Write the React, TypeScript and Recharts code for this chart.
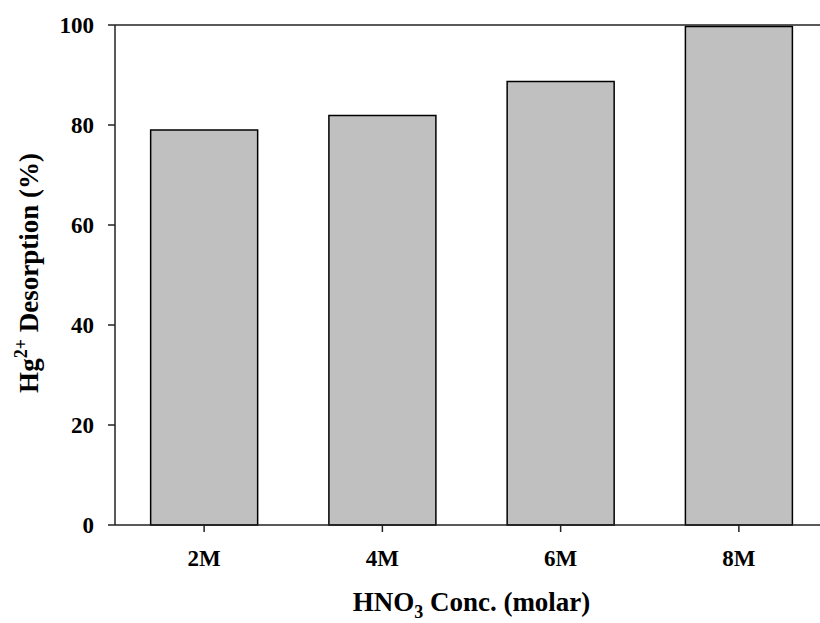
import { BarChart, Bar, XAxis, YAxis, Label } from "recharts";

const concentrations = ["2M", "4M", "6M", "8M"];
const desorption = [79.0, 81.9, 88.7, 99.7];
const yTicks = [0, 20, 40, 60, 80, 100];

const data = concentrations.map((conc, i) => ({ conc, desorption: desorption[i] }));

const font = "'Liberation Serif', 'Times New Roman', serif";
const axisStroke = "#222";
const tickStyle = { fill: "#000", fontSize: 23, fontWeight: 700, fontFamily: font };

function XTitle(props: any) {
  const vb = props.viewBox ?? { x: 115, y: 525, width: 713, height: 98 };
  const cx = vb.x + vb.width / 2;
  return (
    <text x={cx} y={vb.y + 86} textAnchor="middle" fontFamily={font} fontWeight={700} fontSize={27} fill="#000">
      HNO<tspan dy={7} fontSize={18}>3</tspan>
      <tspan dy={-7}> Conc. (molar)</tspan>
    </text>
  );
}

function YTitle(props: any) {
  const vb = props.viewBox ?? { x: 0, y: 25, width: 115, height: 500 };
  const x = 38;
  const y = vb.y + vb.height / 2 - 2;
  return (
    <text
      x={x}
      y={y}
      transform={`rotate(-90 ${x} ${y})`}
      textAnchor="middle"
      fontFamily={font}
      fontWeight={700}
      fontSize={27}
      fill="#000"
    >
      Hg<tspan dy={-11} fontSize={18}>2+</tspan>
      <tspan dy={11}> Desorption (%)</tspan>
    </text>
  );
}

export default function App() {
  return (
    <div style={{ position: "absolute", left: 0, top: 0, width: 820, height: 623, overflow: "hidden", background: "#fff" }}>
      <BarChart
        width={840}
        height={623}
        data={data}
        margin={{ top: 24, right: 12, bottom: 0, left: 0 }}
        barCategoryGap="20%"
      >
        <XAxis
          xAxisId="top"
          orientation="top"
          dataKey="conc"
          height={1}
          tick={false}
          tickLine={false}
          axisLine={{ stroke: axisStroke, strokeWidth: 1.5 }}
        />
        <XAxis
          dataKey="conc"
          height={98}
          tick={tickStyle}
          tickSize={7}
          tickMargin={18}
          tickLine={{ stroke: axisStroke, strokeWidth: 1.5 }}
          axisLine={{ stroke: axisStroke, strokeWidth: 1.5 }}
        >
          <Label content={XTitle} />
        </XAxis>
        <YAxis
          width={115}
          domain={[0, 100]}
          ticks={yTicks}
          tick={tickStyle}
          tickSize={7}
          tickMargin={14}
          tickLine={{ stroke: axisStroke, strokeWidth: 1.5 }}
          axisLine={{ stroke: axisStroke, strokeWidth: 1.5 }}
        >
          <Label content={YTitle} />
        </YAxis>
        <Bar
          dataKey="desorption"
          fill="#c0c0c0"
          stroke="#000"
          strokeWidth={1.5}
          isAnimationActive={false}
        />
      </BarChart>
    </div>
  );
}
